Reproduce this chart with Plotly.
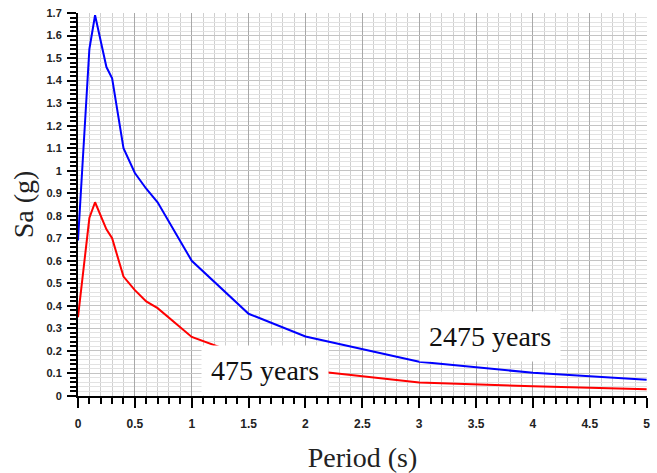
import plotly.graph_objects as go

period = [0, 0.1, 0.15, 0.25, 0.3, 0.4, 0.5, 0.6, 0.7, 1.0, 1.5, 2.0, 3.0, 4.0, 5.0]
sa_2475 = [0.69, 1.54, 1.69, 1.46, 1.41, 1.10, 0.99, 0.92, 0.86, 0.60, 0.365, 0.264, 0.152, 0.103, 0.072]
sa_475 = [0.35, 0.79, 0.86, 0.74, 0.70, 0.53, 0.47, 0.42, 0.39, 0.262, 0.17, 0.115, 0.06, 0.043, 0.03]

x_ticks = [0, 0.5, 1, 1.5, 2, 2.5, 3, 3.5, 4, 4.5, 5]
y_ticks = [round(i * 0.1, 1) for i in range(18)]

fig = go.Figure()
fig.add_trace(go.Scatter(x=period, y=sa_2475, mode="lines", line=dict(color="#0000ff", width=2), name="2475 years"))
fig.add_trace(go.Scatter(x=period, y=sa_475, mode="lines", line=dict(color="#ff0000", width=2), name="475 years"))

tick_family = "Liberation Sans Narrow, Liberation Sans"
fig.update_layout(
    width=657, height=473,
    margin=dict(l=78, r=10, t=13, b=77),
    paper_bgcolor="white", plot_bgcolor="white",
    showlegend=False,
    font=dict(family="Liberation Serif"),
    xaxis=dict(
        range=[0, 5.003], tickvals=x_ticks, ticktext=[("%g" % v) for v in x_ticks],
        ticks="outside", ticklen=10, tickwidth=2, tickcolor="black",
        showline=True, linecolor="black", linewidth=2,
        showgrid=True, gridcolor="#a8a8a8", gridwidth=1,
        minor=dict(dtick=0.1, ticks="outside", ticklen=6, tickwidth=1.5, tickcolor="black", showgrid=True, gridcolor="#cfcfcf", gridwidth=1),
        tickfont=dict(family=tick_family, size=12, color="#222222", weight="bold"),
        ticklabelstandoff=6,
        title=dict(text="Period (s)", font=dict(family="Liberation Serif", size=28, color="#222222"), standoff=20),
        zeroline=False, automargin=False,
    ),
    yaxis=dict(
        range=[0, 1.7], tickvals=y_ticks, ticktext=[("%g" % v) for v in y_ticks],
        ticks="outside", ticklen=9, tickwidth=2, tickcolor="black",
        showline=True, linecolor="black", linewidth=2,
        showgrid=True, gridcolor="#c4c4c4", gridwidth=1,
        minor=dict(dtick=0.02, ticks="outside", ticklen=6, tickwidth=1.5, tickcolor="black", showgrid=True, gridcolor="#e2e2e2", gridwidth=1),
        tickfont=dict(family=tick_family, size=11, color="#222222", weight="bold"),
        ticklabelstandoff=3,
        title=dict(text="Sa (g)", font=dict(family="Liberation Serif", size=28, color="#222222"), standoff=5),
        zeroline=False, automargin=False,
    ),
    annotations=[
        dict(x=1.64, y=0.115, xref="x", yref="y", text="475 years", showarrow=False,
             font=dict(family="Liberation Serif", size=28, color="#111111"), bgcolor="white", borderpad=9),
        dict(x=3.62, y=0.262, xref="x", yref="y", text="2475 years", showarrow=False,
             font=dict(family="Liberation Serif", size=28, color="#111111"), bgcolor="white", borderpad=9),
    ],
)

fig.write_html("out.html", config={"displayModeBar": False},
               post_script="document.body.style.margin='0';document.body.style.overflow='hidden';")
